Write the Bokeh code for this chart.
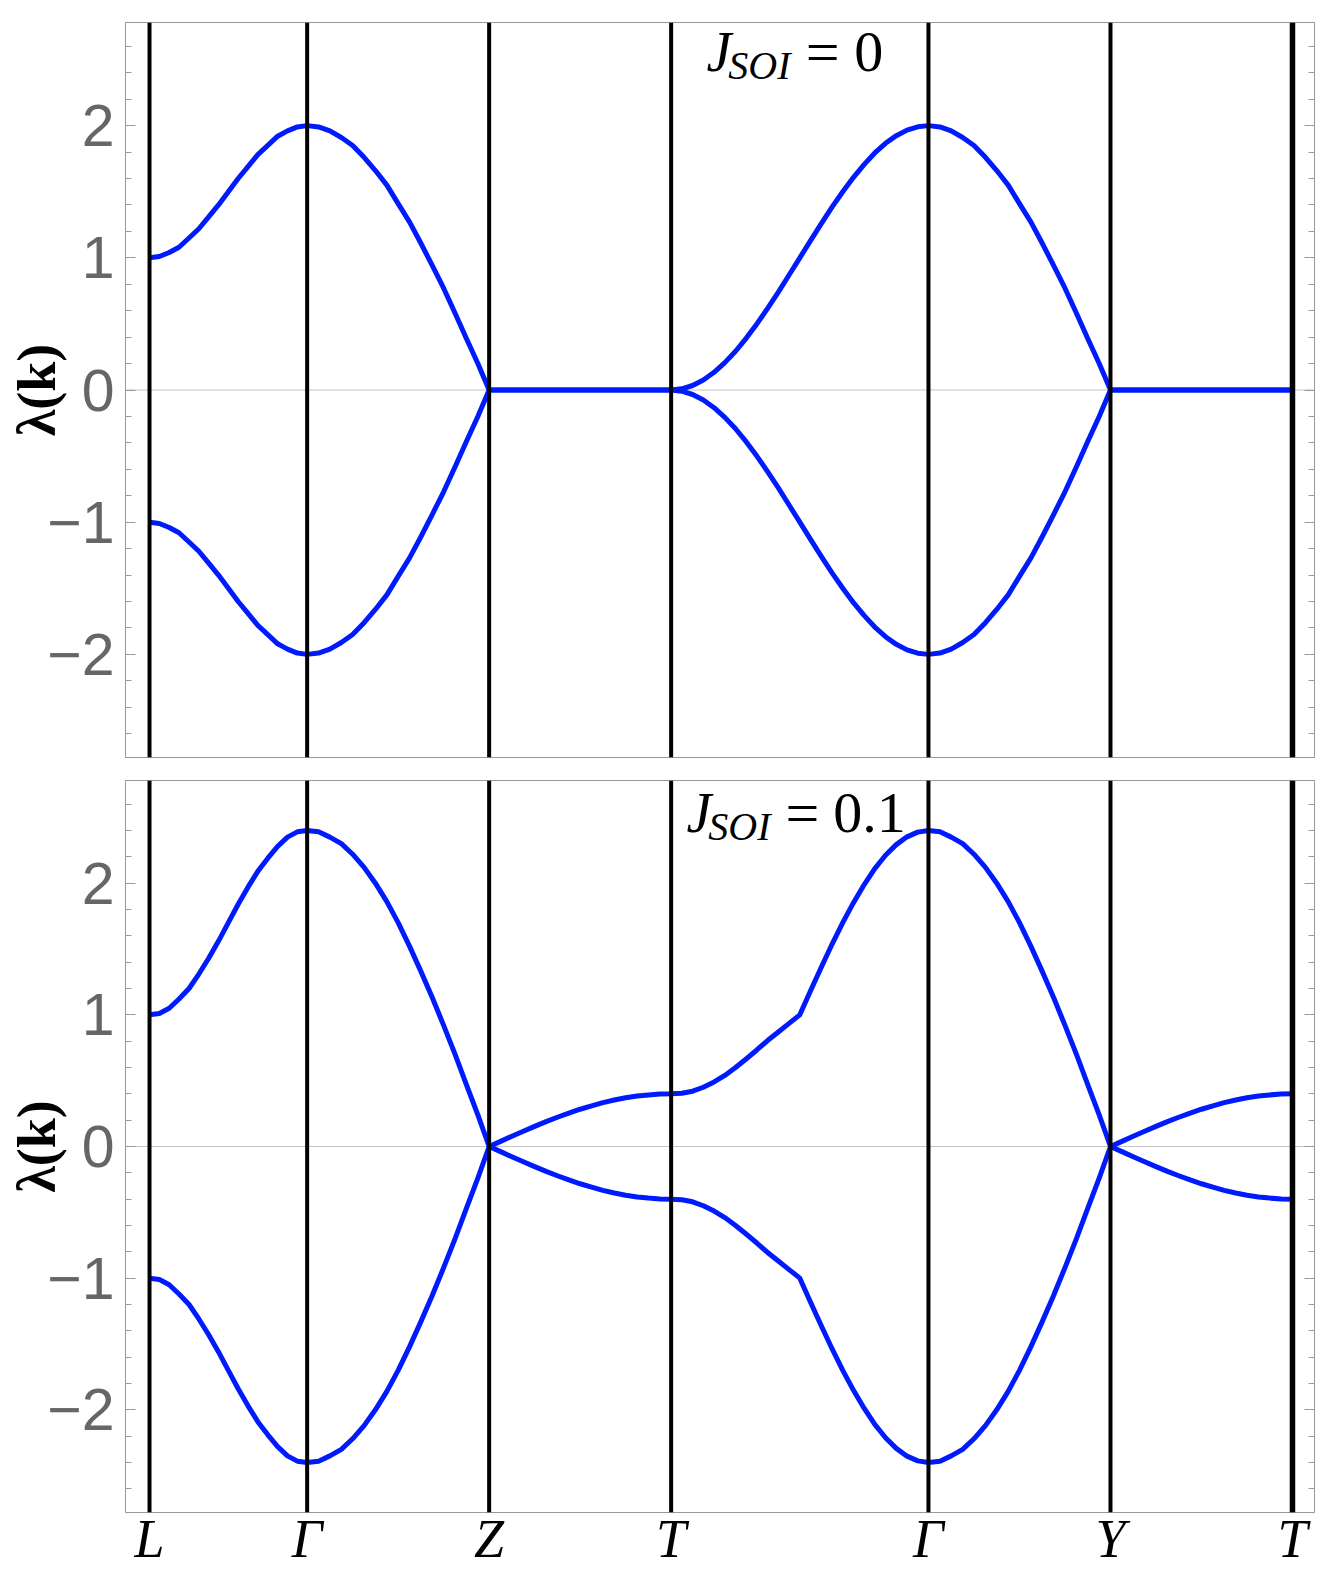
from bokeh.plotting import figure
from bokeh.layouts import column
from bokeh.models import Span, Label, LinearAxis, SingleIntervalTicker, FixedTicker, Range1d
from bokeh.embed import file_html
from bokeh.resources import INLINE

# ---------------- data ----------------
kpoint_names = ["L", "Γ", "Z", "T", "Γ", "Y", "T"]
kpoint_pos = [0.0, 0.866, 1.866, 2.866, 4.280, 5.280, 6.280]

y_ticks = [-2, -1, 0, 1, 2]
y_tick_labels = ["−2", "−1", "0", "1", "2"]

# panel 1: J_SOI = 0
k_top = [0.000, 0.054, 0.108, 0.162, 0.217, 0.271, 0.325, 0.379, 0.433, 0.487, 0.541, 0.595, 0.650, 0.704, 0.758, 0.812, 0.866,
         0.929, 0.991, 1.054, 1.116, 1.179, 1.241, 1.304, 1.366, 1.429, 1.491, 1.554, 1.616, 1.679, 1.741, 1.804, 1.866,
         2.866,
         2.925, 2.984, 3.043, 3.102, 3.161, 3.220, 3.278, 3.337, 3.396, 3.455, 3.514, 3.573,
         3.632, 3.691, 3.750, 3.809, 3.868, 3.927, 3.985, 4.044, 4.103, 4.162, 4.221, 4.280,
         4.343, 4.405, 4.468, 4.530, 4.593, 4.655, 4.718, 4.780, 4.843, 4.905, 4.968, 5.030, 5.093, 5.155, 5.218, 5.280,
         6.280]
upper_top = [1.00, 1.01, 1.04, 1.08, 1.15, 1.22, 1.31, 1.40, 1.50, 1.60, 1.69, 1.78, 1.85, 1.92, 1.96, 1.99, 2.00,
             1.99, 1.96, 1.91, 1.85, 1.76, 1.66, 1.55, 1.41, 1.27, 1.11, 0.94, 0.77, 0.58, 0.39, 0.20, 0.00,
             0.00,
             0.009, 0.034, 0.076, 0.134, 0.207, 0.293, 0.391, 0.500, 0.617, 0.741, 0.870, 1.000,
             1.130, 1.259, 1.383, 1.500, 1.609, 1.707, 1.793, 1.866, 1.924, 1.966, 1.991, 2.000,
             1.99, 1.96, 1.91, 1.85, 1.76, 1.66, 1.55, 1.41, 1.27, 1.11, 0.94, 0.77, 0.58, 0.39, 0.20, 0.00,
             0.00]
lower_top = [-1.00, -1.01, -1.04, -1.08, -1.15, -1.22, -1.31, -1.40, -1.50, -1.60, -1.69, -1.78, -1.85, -1.92, -1.96, -1.99, -2.00,
             -1.99, -1.96, -1.91, -1.85, -1.76, -1.66, -1.55, -1.41, -1.27, -1.11, -0.94, -0.77, -0.58, -0.39, -0.20, 0.00,
             0.00,
             -0.009, -0.034, -0.076, -0.134, -0.207, -0.293, -0.391, -0.500, -0.617, -0.741, -0.870, -1.000,
             -1.130, -1.259, -1.383, -1.500, -1.609, -1.707, -1.793, -1.866, -1.924, -1.966, -1.991, -2.000,
             -1.99, -1.96, -1.91, -1.85, -1.76, -1.66, -1.55, -1.41, -1.27, -1.11, -0.94, -0.77, -0.58, -0.39, -0.20, 0.00,
             0.00]

# panel 2: J_SOI = 0.1
k_bot = [0.000, 0.054, 0.108, 0.162, 0.217, 0.271, 0.325, 0.379, 0.433, 0.487, 0.541, 0.595, 0.650, 0.704, 0.758, 0.812, 0.866,
         0.929, 0.991, 1.054, 1.116, 1.179, 1.241, 1.304, 1.366, 1.429, 1.491, 1.554, 1.616, 1.679, 1.741, 1.804, 1.866,
         1.929, 1.991, 2.054, 2.116, 2.179, 2.241, 2.304, 2.366, 2.429, 2.491, 2.554, 2.616, 2.679, 2.741, 2.804, 2.866,
         2.925, 2.984, 3.043, 3.102, 3.161, 3.220, 3.278, 3.337, 3.396, 3.455, 3.514, 3.573,
         3.632, 3.691, 3.750, 3.809, 3.868, 3.927, 3.985, 4.044, 4.103, 4.162, 4.221, 4.280,
         4.343, 4.405, 4.468, 4.530, 4.593, 4.655, 4.718, 4.780, 4.843, 4.905, 4.968, 5.030, 5.093, 5.155, 5.218, 5.280,
         5.343, 5.405, 5.468, 5.530, 5.593, 5.655, 5.718, 5.780, 5.843, 5.905, 5.968, 6.030, 6.093, 6.155, 6.218, 6.280]
upper_bot = [1.00, 1.01, 1.05, 1.12, 1.20, 1.31, 1.43, 1.56, 1.70, 1.84, 1.97, 2.09, 2.19, 2.28, 2.35, 2.39, 2.40,
             2.39, 2.35, 2.30, 2.22, 2.12, 2.00, 1.86, 1.70, 1.52, 1.33, 1.13, 0.92, 0.70, 0.47, 0.24, 0.00,
             0.039, 0.078, 0.116, 0.153, 0.189, 0.222, 0.254, 0.283, 0.309, 0.333, 0.353, 0.370, 0.383, 0.392, 0.398, 0.400,
             0.405, 0.420, 0.450, 0.490, 0.540, 0.600, 0.665, 0.733, 0.805, 0.870, 0.935, 1.000,
             1.183, 1.362, 1.536, 1.700, 1.852, 1.990, 2.111, 2.212, 2.293, 2.352, 2.388, 2.400,
             2.39, 2.35, 2.30, 2.22, 2.12, 2.00, 1.86, 1.70, 1.52, 1.33, 1.13, 0.92, 0.70, 0.47, 0.24, 0.00,
             0.039, 0.078, 0.116, 0.153, 0.189, 0.222, 0.254, 0.283, 0.309, 0.333, 0.353, 0.370, 0.383, 0.392, 0.398, 0.400]
lower_bot = [-1.00, -1.01, -1.05, -1.12, -1.20, -1.31, -1.43, -1.56, -1.70, -1.84, -1.97, -2.09, -2.19, -2.28, -2.35, -2.39, -2.40,
             -2.39, -2.35, -2.30, -2.22, -2.12, -2.00, -1.86, -1.70, -1.52, -1.33, -1.13, -0.92, -0.70, -0.47, -0.24, 0.00,
             -0.039, -0.078, -0.116, -0.153, -0.189, -0.222, -0.254, -0.283, -0.309, -0.333, -0.353, -0.370, -0.383, -0.392, -0.398, -0.400,
             -0.405, -0.420, -0.450, -0.490, -0.540, -0.600, -0.665, -0.733, -0.805, -0.870, -0.935, -1.000,
             -1.183, -1.362, -1.536, -1.700, -1.852, -1.990, -2.111, -2.212, -2.293, -2.352, -2.388, -2.400,
             -2.39, -2.35, -2.30, -2.22, -2.12, -2.00, -1.86, -1.70, -1.52, -1.33, -1.13, -0.92, -0.70, -0.47, -0.24, 0.00,
             -0.039, -0.078, -0.116, -0.153, -0.189, -0.222, -0.254, -0.283, -0.309, -0.333, -0.353, -0.370, -0.383, -0.392, -0.398, -0.400]

# ---------------- style ----------------
BLUE = "#001aff"
FRAME = "#9a9a9a"
X0, X1 = -0.132, 6.401
Y0, Y1 = -2.78, 2.78
SERIF = "Liberation Serif"


def make_panel(k, up, lo, height, btop, bbot, ann, show_x):
    p = figure(width=1318, height=height,
               x_range=Range1d(X0, X1), y_range=Range1d(Y0, Y1),
               output_backend="svg", toolbar_location=None,
               x_axis_location="below" if show_x else None,
               y_axis_location=None, title_location=None,
               min_border_left=125, min_border_right=4,
               min_border_top=btop, min_border_bottom=bbot)
    p.grid.visible = False
    p.outline_line_color = FRAME
    p.outline_line_width = 1
    p.background_fill_color = "white"
    p.border_fill_color = "white"

    for side in ("left", "right"):
        ax = LinearAxis(ticker=SingleIntervalTicker(interval=1, num_minor_ticks=5))
        ax.major_tick_in = 10
        ax.major_tick_out = 0
        ax.minor_tick_in = 6
        ax.minor_tick_out = 0
        ax.major_tick_line_color = FRAME
        ax.minor_tick_line_color = FRAME
        ax.axis_line_color = FRAME
        if side == "left":
            ax.major_label_overrides = dict(zip(y_ticks, y_tick_labels))
            ax.major_label_text_font = "Liberation Sans"
            ax.major_label_text_font_size = "59px"
            ax.major_label_text_color = "#666666"
            ax.major_label_standoff = 11
            ax.axis_label = "λ(k)"
            ax.axis_label_text_font = SERIF
            ax.axis_label_text_font_style = "bold"
            ax.axis_label_text_font_size = "54px"
            ax.axis_label_text_color = "black"
            ax.axis_label_standoff = -23
        else:
            ax.major_label_text_font_size = "1px"
            ax.major_label_text_color = None
            ax.major_label_standoff = 0
        p.add_layout(ax, side)

    if show_x:
        xa = p.xaxis[0]
        xa.ticker = FixedTicker(ticks=kpoint_pos)
        xa.major_label_overrides = dict(zip(kpoint_pos, kpoint_names))
        xa.major_tick_in = 0
        xa.major_tick_out = 0
        xa.minor_tick_in = 0
        xa.minor_tick_out = 0
        xa.axis_line_color = FRAME
        xa.major_label_text_font = SERIF
        xa.major_label_text_font_style = "italic"
        xa.major_label_text_font_size = "54px"
        xa.major_label_text_color = "black"
        xa.major_label_standoff = -4

    p.add_layout(Span(location=0, dimension="width", line_color="#c4c4c4",
                      line_width=1, level="underlay"))

    p.line(k, up, line_color=BLUE, line_width=5, line_join="round")
    p.line(k, lo, line_color=BLUE, line_width=5, line_join="round")

    for i, xk in enumerate(kpoint_pos):
        lw = 5.5 if i == len(kpoint_pos) - 1 else 4
        p.add_layout(Span(location=xk, dimension="height", line_color="black",
                          line_width=lw))

    # J_SOI annotation
    (xj, yj), (xs, ys), (xe, xv), rest = ann
    common = dict(text_font=SERIF, text_baseline="alphabetic", text_color="black")
    p.add_layout(Label(x=xj, y=yj, text="J", text_font_style="italic",
                       text_font_size="56px", **common))
    p.add_layout(Label(x=xs, y=ys, text="SOI", text_font_style="italic",
                       text_font_size="40px", **common))
    p.add_layout(Label(x=xe, y=yj, text="=", text_font_size="60px", **common))
    p.add_layout(Label(x=xv, y=yj, text=rest, text_font_size="58px", **common))
    return p


p1 = make_panel(k_top, upper_top, lower_top, 770, 22, 13,
                ((3.06, 2.556), (3.18, 2.453), (3.605, 3.872), "0"), False)
p2 = make_panel(k_bot, upper_bot, lower_bot, 801, 10, 56,
                ((2.95, 2.531), (3.07, 2.430), (3.495, 3.757), "0.1"), True)

layout = column(p1, p2, spacing=0)
open("out.html", "w").write(file_html(layout, INLINE))
